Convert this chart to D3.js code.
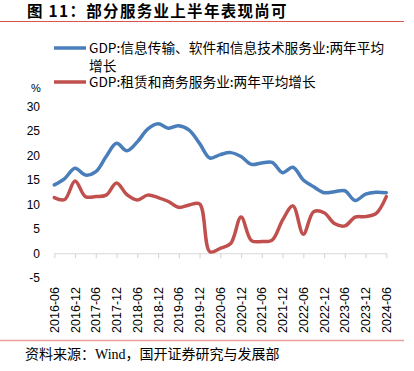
<!DOCTYPE html>
<html>
<head>
<meta charset="utf-8">
<script src="https://cdn.jsdelivr.net/npm/d3@7"></script>
<style>
  body { margin: 0; background: #fff; }
  svg { display: block; }
</style>
</head>
<body>
<div id="chart"></div>
<script>
// quarterly, 2016-06 .. 2024-06
const quarters = []
for (let y = 2016; y <= 2024; y++) {
    ["03", "06", "09", "12"].forEach(m => {
        const q = y + "-" + m
        if (q >= "2016-06" && q <= "2024-06") quarters.push(q)
    })
}

const tickLabels = quarters.filter(q => q.endsWith("-06") || q.endsWith("-12"))

const infoTech = [14.0, 15.3, 17.4, 16.0, 16.7, 19.8, 22.5, 21.0, 22.8, 25.4, 26.5,
    25.6, 26.1, 25.2, 22.5, 19.5, 20.2, 20.6, 19.8, 18.2, 18.5, 18.6, 16.5, 17.6,
    15.0, 13.6, 12.4, 12.6, 12.8, 10.8, 12.1, 12.5, 12.4]

const leasing = [11.4, 11.0, 14.8, 11.6, 11.6, 11.9, 14.4, 12.0, 10.9, 11.9, 11.4,
    10.6, 9.4, 9.9, 10.1, 0.3, 1.0, 2.0, 7.4, 2.6, 2.4, 2.7, 6.8, 9.7,
    3.9, 8.5, 8.3, 6.1, 5.6, 7.4, 7.5, 8.1, 11.6]

const yTicks = [-5, 0, 5, 10, 15, 20, 25, 30]

const width = 414, height = 371

const svg = d3.select("#chart").append("svg")
    .attr("width", width)
    .attr("height", height)

// title
svg.append("text")
    .attr("x", 27).attr("y", 17)
    .attr("font-family", "Noto Sans CJK SC")
    .attr("font-weight", "bold")
    .attr("font-size", "15.5px")
    .attr("letter-spacing", "1.3px")
    .attr("fill", "#000")
    .text("图 11：部分服务业上半年表现尚可")

svg.append("line")
    .attr("x1", 0).attr("x2", 404)
    .attr("y1", 21.5).attr("y2", 21.5)
    .attr("stroke", "#d9534f").attr("stroke-width", 1.2)

// legend
const legendFont = "'Noto Sans CJK SC', sans-serif"
const legend = [
    {color: "#4a7ebb", y: 48, lines: ["GDP:信息传输、软件和信息技术服务业:两年平均", "增长"]},
    {color: "#c0504d", y: 82, lines: ["GDP:租赁和商务服务业:两年平均增长"]}
]
legend.forEach(item => {
    svg.append("line")
        .attr("x1", 54).attr("x2", 86)
        .attr("y1", item.y).attr("y2", item.y)
        .attr("stroke", item.color).attr("stroke-width", 3.5)
    item.lines.forEach((t, i) => {
        svg.append("text")
            .attr("x", 89).attr("y", item.y + 4.8 + i * 18)
            .attr("font-family", legendFont)
            .attr("font-size", "13.7px")
            .attr("fill", "#000")
            .text(t)
    })
})

svg.append("text")
    .attr("x", 31).attr("y", 92)
    .attr("font-family", "Liberation Sans, sans-serif")
    .attr("font-size", "11px")
    .attr("fill", "#000")
    .text("%")

// scales
const x = d3.scalePoint().domain(quarters).range([54.3, 386.3])
const y = d3.scaleLinear().domain([-5, 30]).range([277.7, 106.7])

// y labels (no axis line)
svg.append("g")
    .selectAll("text")
    .data(yTicks)
    .enter().append("text")
    .attr("x", 40)
    .attr("y", d => y(d) + 4.3)
    .attr("text-anchor", "end")
    .attr("font-family", "Liberation Sans, sans-serif")
    .attr("font-size", "12px")
    .attr("fill", "#000")
    .text(d => d)

// x axis at zero
const xAxis = svg.append("g")
    .attr("transform", "translate(0," + y(0) + ")")
    .call(d3.axisBottom(x).tickValues(tickLabels).tickSize(5).tickSizeOuter(0).tickFormat(""))
xAxis.select(".domain").attr("stroke", "#d9d9d9").attr("stroke-width", 1.2)
xAxis.selectAll(".tick line").attr("stroke", "#d9d9d9").attr("stroke-width", 1.2)

// rotated x labels
svg.append("g")
    .selectAll("text")
    .data(tickLabels)
    .enter().append("text")
    .attr("transform", d => "translate(" + (x(d) + 4.5) + ",287) rotate(-90)")
    .attr("text-anchor", "end")
    .attr("font-family", "Liberation Sans, sans-serif")
    .attr("font-size", "12.5px")
    .attr("fill", "#000")
    .text(d => d)

// lines
const line = d3.line()
    .x((d, i) => x(quarters[i]))
    .y(d => y(d))
    .curve(d3.curveCatmullRom.alpha(0.5))

svg.append("path")
    .datum(infoTech)
    .attr("d", line)
    .attr("fill", "none")
    .attr("stroke", "#4a7ebb")
    .attr("stroke-width", 3.5)
    .attr("stroke-linecap", "round")
    .attr("stroke-linejoin", "round")

svg.append("path")
    .datum(leasing)
    .attr("d", line)
    .attr("fill", "none")
    .attr("stroke", "#c0504d")
    .attr("stroke-width", 3.5)
    .attr("stroke-linecap", "round")
    .attr("stroke-linejoin", "round")

// source
svg.append("line")
    .attr("x1", 0).attr("x2", 404)
    .attr("y1", 340.5).attr("y2", 340.5)
    .attr("stroke", "#e8a0a0").attr("stroke-width", 1.5)

svg.append("text")
    .attr("x", 25).attr("y", 359)
    .attr("font-family", "'Liberation Serif', 'Noto Sans CJK SC', serif")
    .attr("font-size", "14px")
    .attr("fill", "#000")
    .text("资料来源：Wind，国开证券研究与发展部")
</script>
</body>
</html>
